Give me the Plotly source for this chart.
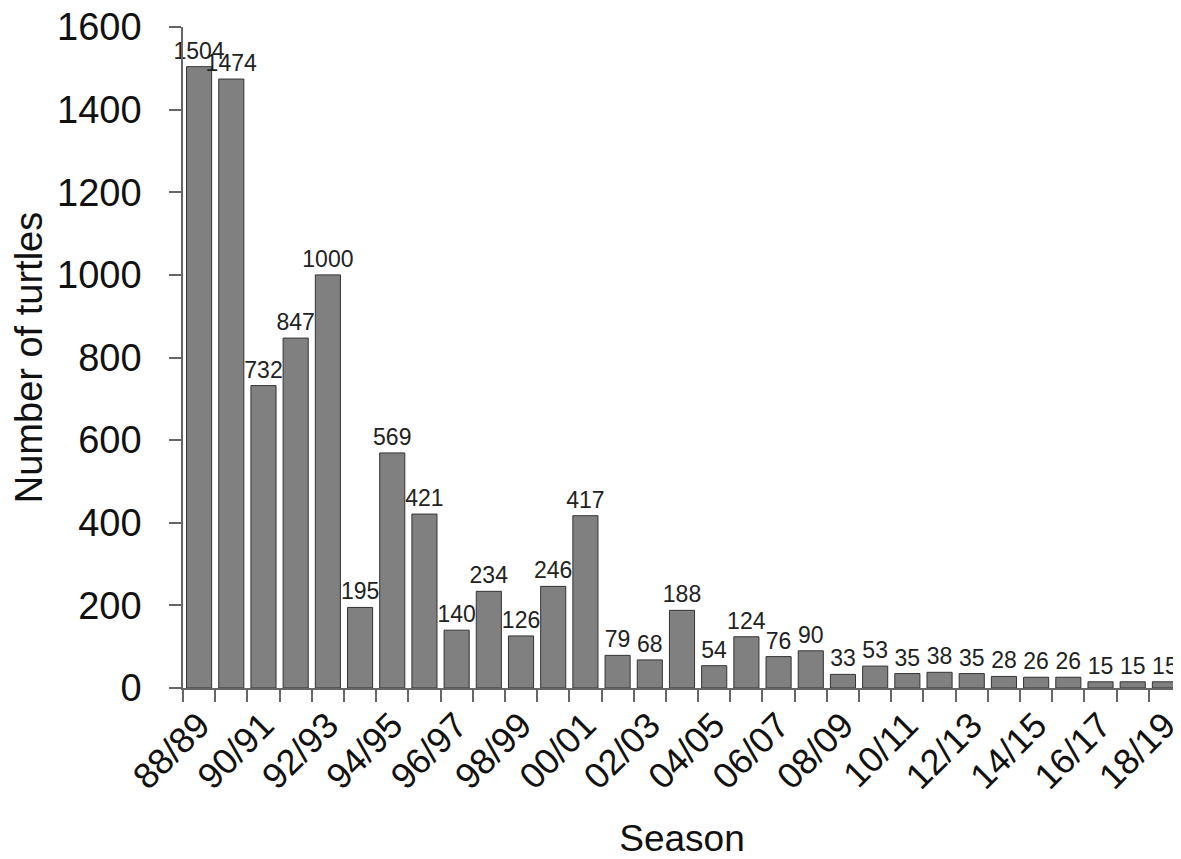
import plotly.graph_objects as go

seasons = ["88/89","89/90","90/91","91/92","92/93","93/94","94/95","95/96","96/97","97/98",
           "98/99","99/00","00/01","01/02","02/03","03/04","04/05","05/06","06/07","07/08",
           "08/09","09/10","10/11","11/12","12/13","13/14","14/15","15/16","16/17","17/18","18/19"]
turtles = [1504,1474,732,847,1000,195,569,421,140,234,126,246,417,79,68,188,54,124,76,90,
           33,53,35,38,35,28,26,26,15,15,15]
y_ticks = [0,200,400,600,800,1000,1200,1400,1600]

idx = list(range(len(seasons)))
fig = go.Figure(go.Bar(
    x=idx, y=turtles,
    marker=dict(color="#808080", line=dict(color="#333333", width=1)),
    width=0.78,
    text=[str(v) for v in turtles], textposition="outside",
    textfont=dict(size=23, color="#222222"),
    cliponaxis=False,
))
fig.update_layout(
    width=1173, height=851,
    margin=dict(l=175, r=0, t=19, b=171, autoexpand=False),
    plot_bgcolor="white", paper_bgcolor="white",
    font=dict(family="Liberation Sans, Arial, sans-serif", color="#111111"),
    showlegend=False,
    uniformtext=dict(mode="show", minsize=23),
)
fig.update_xaxes(
    range=[-0.5, len(seasons)-0.5], automargin=False,
    tickmode="array", tickvals=idx[::2], ticktext=seasons[::2],
    tickangle=-45, tickfont=dict(size=36), ticklabeloverflow="allow",
    ticks="", showline=True, linecolor="#666666", linewidth=1.5,
    showgrid=False, zeroline=False,
    minor=dict(ticks="outside", tickmode="linear", tick0=-0.5, dtick=1,
               ticklen=12, tickcolor="#666666", tickwidth=1.5, showgrid=False),
    title=dict(text="Season", font=dict(size=37), standoff=35),
)
fig.update_yaxes(
    range=[0, 1600], tickmode="array", tickvals=y_ticks, automargin=False,
    ticklabeloverflow="allow",
    tickfont=dict(size=38), ticks="outside", ticklen=12, tickcolor="#666666", tickwidth=1.5,
    ticklabelstandoff=20,
    showline=True, linecolor="#666666", linewidth=1.5,
    showgrid=False, zeroline=False,
    title=dict(text="Number of turtles", font=dict(size=38), standoff=16),
)
fig.write_html("out.html")
